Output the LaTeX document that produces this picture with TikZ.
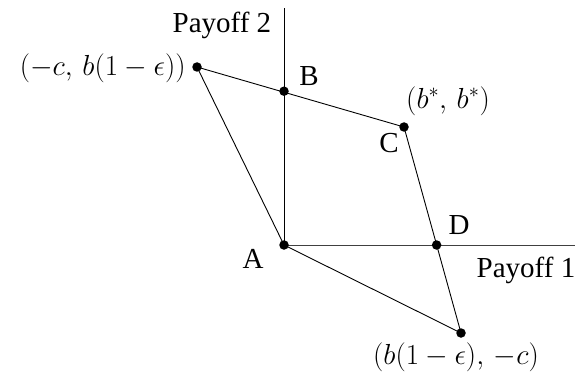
\RequirePackage{fix-cm}
\documentclass[tikz,border=0pt]{standalone}
\usepackage{fontspec}
\setmainfont{Liberation Serif}
\usetikzlibrary{calc}

\tikzset{
  dot/.style={circle,fill=black,inner sep=0pt,minimum size=9.5pt},
  lbl/.style={inner sep=0pt,font=\fontsize{29}{33}\selectfont}
}

\begin{document}
\begin{tikzpicture}[x=1pt,y=-1pt,line width=0.9pt]
        \useasboundingbox (0,0) rectangle (575,377);
        % axes
        \coordinate (top) at (284,8);
        \coordinate (right) at (575,245);
        \coordinate (A) at (284,245);
        \draw (A) -- (top);
        \draw[black!75] (A) -- (right);
        % corners of the region
        \coordinate (P) at (197,67);
        \coordinate (C) at (404,127);
        \coordinate (Q) at (461,333);
        \coordinate (B) at (284,91.2);
        \coordinate (D) at (436.6,245);
        \draw (P) -- (C) -- (Q) -- (A) -- cycle;
        \foreach \p in {A,B,C,D,P,Q}
          \node[dot] (d\p) at (\p) {};
        % labels
        \node[lbl] (pay2) at (222,25) {Payoff 2};
        \node[lbl] (pay1) at (526,270) {Payoff 1};
        \node[lbl] (lA) at (253,259) {A};
        \node[lbl] (lB) at (309,76) {B};
        \node[lbl] (lC) at (389,143) {C};
        \node[lbl] (lD) at (459,225) {D};
        \node[lbl,anchor=east] (lP) at (186,68) {$(-c,\,b(1-\epsilon))$};
        \node[lbl] (lC2) at (448,101) {$(b^*,\,b^*)$};
        \node[lbl] (lQ) at (456,357) {$(b(1-\epsilon),\,-c)$};
      \end{tikzpicture}
\end{document}
